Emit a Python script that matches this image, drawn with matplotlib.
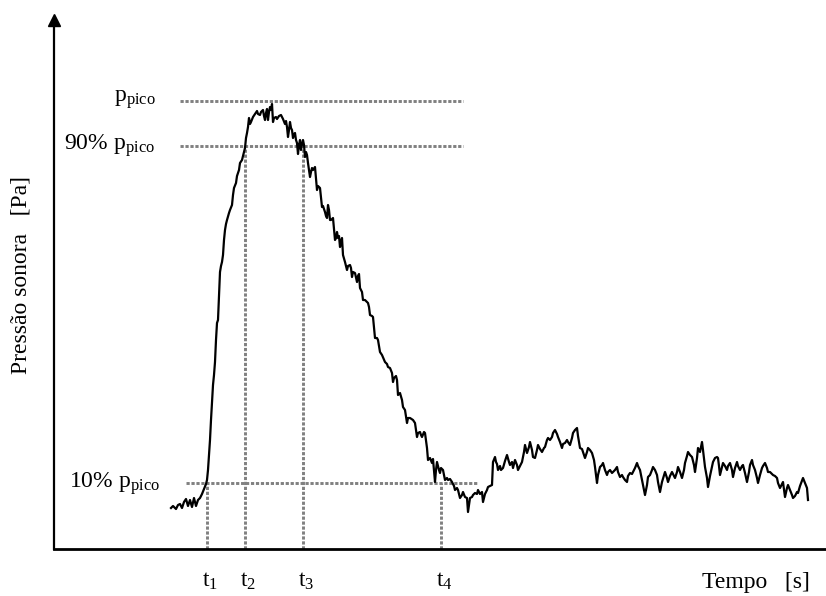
import numpy as np
import matplotlib
matplotlib.use("Agg")
import matplotlib.pyplot as plt

plt.rcParams["font.family"] = ["Liberation Serif", "DejaVu Serif"]
plt.rcParams["mathtext.fontset"] = "custom"
plt.rcParams["mathtext.rm"] = "Liberation Serif"
plt.rcParams["mathtext.it"] = "Liberation Serif:italic"

# dados (unidades arbitrárias)
tempo = [117, 119, 122, 124, 126, 128, 130, 132, 134, 136, 138, 140, 142, 144, 146, 148, 150, 152, 153, 154,
         155, 156, 157, 158, 159, 160, 161, 162, 163, 164, 165, 166, 167, 168, 169, 170, 171, 172, 173, 175,
         176, 178, 179, 180, 182, 183, 185, 186, 188, 189, 191, 192, 193, 194, 195, 196, 197, 199, 201, 203,
         204, 206, 207, 209, 210, 211, 212, 213, 214, 215, 216, 217, 218, 219, 220, 222, 223, 225, 227, 229,
         231, 232, 233, 234, 235, 236, 237, 238, 239, 240, 241, 242, 243, 244, 245, 246, 247, 248, 249, 250,
         251, 252, 253, 254, 256, 257, 258, 259, 261, 262, 263, 264, 266, 268, 269, 271, 272, 273, 274, 275,
         276, 277, 279, 281, 282, 283, 284, 285, 286, 287, 288, 289, 291, 293, 294, 296, 297, 298, 299, 301,
         303, 304, 305, 306, 308, 309, 311, 314, 315, 316, 318, 319, 321, 323, 324, 326, 328, 331, 333, 334,
         336, 338, 339, 340, 342, 343, 344, 346, 348, 349, 351, 353, 354, 356, 359, 361, 363, 364, 366, 367,
         368, 370, 371, 373, 374, 376, 378, 379, 381, 382, 383, 385, 386, 387, 389, 391, 393, 394, 396, 398,
         400, 401, 403, 404, 406, 408, 409, 411, 413, 414, 415, 416, 418, 419, 421, 423, 424, 426, 428, 429,
         431, 433, 434, 436, 438, 439, 441, 442, 443, 444, 446, 447, 449, 451, 453, 455, 456, 458, 459, 461,
         463, 464, 466, 468, 470, 471, 473, 475, 476, 478, 479, 481, 483, 484, 486, 488, 490, 491, 493, 494,
         496, 498, 499, 501, 503, 504, 506, 508, 509, 511, 513, 514, 516, 518, 519, 521, 523, 524, 526, 528,
         529, 531, 533, 534, 536, 538, 540, 541, 543, 544, 546, 548, 549, 551, 553, 554, 556, 558, 559, 561,
         563, 564, 566, 568, 569, 571, 573, 574, 576, 578, 579, 581, 583, 584, 586, 588, 591, 593, 594, 596,
         598, 599, 601, 603, 604, 606, 608, 611, 613, 614, 616, 618, 621, 623, 624, 626, 628, 630, 631, 633,
         634, 636, 638, 640, 641, 643, 644, 646, 648, 649, 651, 653, 654, 656, 658, 659, 661, 663, 664, 665,
         666, 668, 669, 671, 673, 674, 676, 678, 679, 681, 683, 684, 686, 688, 689, 691, 693, 695, 696, 698,
         699, 701, 703, 704, 706, 708, 709, 711, 713, 714, 716, 719, 721, 723, 724, 726, 728, 729, 731, 733,
         734, 736, 738, 739, 741, 743, 744, 746, 749, 751, 753, 754]
pressao = [41, 43, 40, 44, 45, 41, 47, 50, 43, 49, 42, 51, 43, 49, 51, 55, 60, 65, 69, 79,
           94, 109, 129, 146, 164, 174, 187, 209, 226, 229, 254, 277, 283, 287, 294, 309, 319, 325, 329, 336,
           339, 344, 354, 361, 366, 373, 379, 386, 389, 393, 401, 411, 416, 422, 431, 425, 427, 432, 435, 438,
           435, 434, 437, 439, 433, 429, 436, 440, 429, 437, 442, 439, 445, 427, 431, 432, 430, 433, 434, 430,
           425, 428, 422, 412, 419, 427, 421, 419, 411, 415, 416, 409, 406, 395, 404, 409, 399, 405, 409, 404,
           392, 397, 394, 386, 372, 377, 381, 379, 382, 371, 359, 363, 361, 342, 343, 337, 333, 331, 344, 339,
           329, 329, 331, 309, 311, 317, 311, 313, 302, 307, 311, 294, 287, 279, 283, 284, 281, 272, 277, 276,
           267, 273, 275, 261, 257, 249, 249, 246, 242, 234, 233, 232, 211, 211, 209, 197, 194, 187, 185, 182,
           181, 176, 167, 171, 173, 169, 154, 156, 149, 142, 139, 126, 131, 131, 129, 126, 112, 116, 117, 114,
           112, 117, 116, 101, 89, 91, 86, 90, 67, 79, 87, 79, 76, 81, 79, 69, 71, 69, 70, 67,
           63, 59, 61, 59, 51, 54, 57, 52, 51, 37, 44, 51, 52, 54, 56, 55, 59, 55, 57, 47,
           55, 59, 62, 63, 64, 87, 92, 87, 85, 79, 83, 79, 81, 88, 94, 87, 84, 87, 81, 89,
           84, 79, 83, 87, 97, 104, 96, 102, 107, 99, 92, 91, 99, 104, 100, 97, 101, 102, 109, 111,
           109, 112, 116, 119, 115, 112, 107, 101, 105, 106, 109, 107, 104, 111, 116, 119, 121, 113, 101, 100,
           97, 91, 97, 101, 99, 96, 89, 82, 66, 74, 82, 84, 86, 79, 74, 77, 79, 76, 77, 79,
           82, 77, 72, 74, 72, 69, 67, 73, 76, 75, 77, 81, 86, 83, 79, 69, 54, 64, 72, 74,
           79, 82, 79, 74, 67, 57, 67, 77, 71, 67, 73, 77, 71, 77, 82, 77, 71, 79, 86, 93,
           97, 94, 92, 84, 77, 91, 101, 97, 107, 99, 82, 71, 62, 73, 82, 87, 91, 92, 91, 83,
           74, 82, 86, 83, 79, 83, 86, 79, 72, 81, 87, 83, 79, 83, 84, 76, 67, 77, 84, 89,
           84, 79, 71, 66, 74, 81, 83, 86, 81, 77, 77, 74, 73, 71, 66, 61, 65, 67, 52, 61,
           64, 59, 54, 51, 53, 57, 56, 63, 71, 66, 61, 49]

# níveis de referência e instantes
p_pico = 448
p_90 = 403
p_10 = 66
t1, t2, t3, t4 = 153, 191, 249, 387

fig = plt.figure(figsize=(8.26, 5.96), dpi=100)
ax = fig.add_axes([54 / 826, 47 / 596, 772 / 826, 535 / 596])
ax.set_xlim(0, 772)
ax.set_ylim(0, 535)

# linhas tracejadas cinzentas
cinza = "#808080"
tr = dict(color=cinza, lw=2.1, linestyle=(0, (1.1, 0.6)), dash_capstyle="butt")
ax.plot([126, 409], [p_pico, p_pico], **tr)
ax.plot([126, 409], [p_90, p_90], **tr)
ax.plot([132, 423], [p_10, p_10], **tr)
ax.plot([t1, t1], [0, p_10], **tr)
ax.plot([t2, t2], [0, p_90], **tr)
ax.plot([t3, t3], [0, p_90], **tr)
ax.plot([t4, t4], [0, p_10], **tr)

# curva da pressão sonora
ax.plot(tempo, pressao, color="black", lw=1.6)

# eixos
for s in ["top", "right"]:
    ax.spines[s].set_visible(False)
ax.spines["bottom"].set_linewidth(2.0)
ax.spines["left"].set_linewidth(1.6)
ax.spines["left"].set_bounds(0, 525)
ax.plot(0, 529.5, marker="^", color="black", markersize=8.5, clip_on=False)
ax.set_xticks([])
ax.set_yticks([])

fs = 17
ax.text(102, 447, r"p$_{\mathrm{pico}}$", fontsize=fs, ha="right", va="baseline")
ax.text(101, 399, r"90% p$_{\mathrm{pico}}$", fontsize=fs, ha="right", va="baseline")
ax.text(106, 61, r"10% p$_{\mathrm{pico}}$", fontsize=fs, ha="right", va="baseline")

for i, t in enumerate([t1, t2, t3, t4]):
    ax.text(t - 5, -38, "t$_{\\mathrm{%d}}$" % (i + 1), fontsize=fs, ha="left", va="baseline")

ax.text(648, -39, "Tempo   [s]", fontsize=fs, ha="left", va="baseline")
ax.text(-33, 274, "Pressão sonora   [Pa]", fontsize=fs, rotation=90, ha="center", va="center")

fig.savefig("out.png", dpi=100)
